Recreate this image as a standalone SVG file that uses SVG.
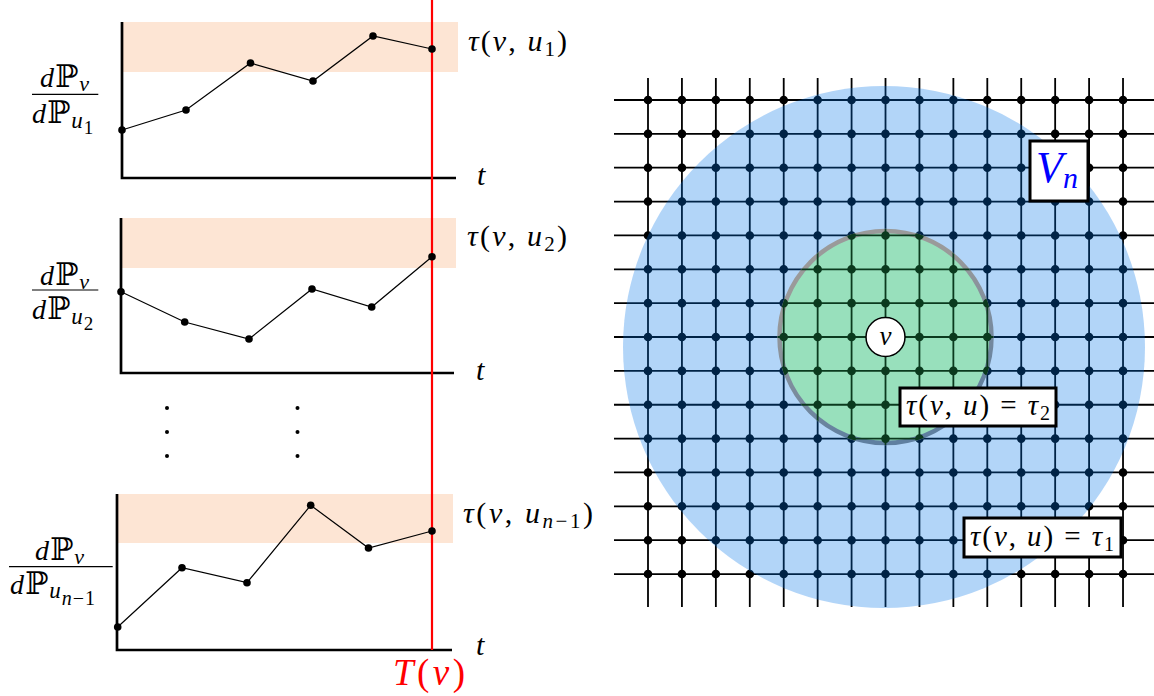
<svg xmlns="http://www.w3.org/2000/svg" xmlns:xlink="http://www.w3.org/1999/xlink" width="1154" height="696" viewBox="0 0 1154 696">
<style>
.ax{stroke:#000;stroke-width:2.7;fill:none}
.band{fill:#FDE5D4}
.curve{fill:none;stroke:#000;stroke-width:1.2}
.pt{fill:#000}
.m{font-family:"Liberation Serif",serif;fill:#000}
.i{font-style:italic}
.bb{font-family:"DejaVu Serif",serif;font-style:normal;font-size:31px}
.box{fill:#fff;stroke:#000;stroke-width:3}
.bar{stroke:#000;stroke-width:1.2}
.gl{fill:none;stroke-width:1.8}
.gd{fill:none;stroke-width:8.6;stroke-linecap:round;stroke-dasharray:0 33.93}
</style>
<defs>
<g id="gridG">
<path class="gl" d="M614,100H1157M614,133.86H1157M614,167.72H1157M614,201.58H1157M614,235.44H1157M614,269.3H1157M614,303.16H1157M614,337.02H1157M614,370.88H1157M614,404.74H1157M614,438.6H1157M614,472.46H1157M614,506.32H1157M614,540.18H1157M614,574.04H1157M648,78V607M681.93,78V607M715.86,78V607M749.79,78V607M783.72,78V607M817.65,78V607M851.58,78V607M885.51,78V607M919.44,78V607M953.37,78V607M987.3,78V607M1021.23,78V607M1055.16,78V607M1089.09,78V607M1123.02,78V607"/>
<path class="gd" d="M648,100H1123.5"/>
<path class="gd" d="M648,133.86H1123.5"/>
<path class="gd" d="M648,167.72H1123.5"/>
<path class="gd" d="M648,201.58H1123.5"/>
<path class="gd" d="M648,235.44H1123.5"/>
<path class="gd" d="M648,269.3H1123.5"/>
<path class="gd" d="M648,303.16H1123.5"/>
<path class="gd" d="M648,337.02H1123.5"/>
<path class="gd" d="M648,370.88H1123.5"/>
<path class="gd" d="M648,404.74H1123.5"/>
<path class="gd" d="M648,438.6H1123.5"/>
<path class="gd" d="M648,472.46H1123.5"/>
<path class="gd" d="M648,506.32H1123.5"/>
<path class="gd" d="M648,540.18H1123.5"/>
<path class="gd" d="M648,574.04H1123.5"/>
</g>
<clipPath id="gc"><circle cx="885.5" cy="337" r="108"/></clipPath>
<linearGradient id="ring" x1="0" y1="0" x2="0.35" y2="1">
<stop offset="0.35" stop-color="#9a9a9a"/>
<stop offset="1" stop-color="#5f7fa0"/>
</linearGradient>
</defs>

<!-- left: plots -->
<g id="plot1">
<rect class="band" x="122" y="22" width="336" height="50"/>
<path class="ax" d="M122,22V178H456"/>
</g>
<g id="plot2">
<rect class="band" x="121" y="218" width="335" height="50"/>
<path class="ax" d="M121,218V373H454"/>
</g>
<g id="plot3">
<rect class="band" x="117" y="494" width="336" height="49"/>
<path class="ax" d="M117,494V650H452"/>
</g>

<g id="threshold">
<line x1="432" y1="0" x2="432" y2="650" stroke="#FF0000" stroke-width="2.2"/>
<text class="m" x="393" y="685" font-size="37" style="fill:#FF0000" textLength="72"><tspan class="i">T</tspan>(<tspan class="i">v</tspan>)</text>
</g>

<g id="curve1">
<polyline class="curve" points="122,130 186,110 250.5,63 313,81 373,36 432,49"/>
<g class="pt"><circle cx="122" cy="130" r="3.8"/><circle cx="186" cy="110" r="3.8"/><circle cx="250.5" cy="63" r="3.8"/><circle cx="313" cy="81" r="3.8"/><circle cx="373" cy="36" r="3.8"/><circle cx="432" cy="49" r="3.8"/></g>
</g>
<g id="curve2">
<polyline class="curve" points="121,291.7 184.7,322 249,339 312,289 371.7,307 432,256.7"/>
<g class="pt"><circle cx="121" cy="291.7" r="3.8"/><circle cx="184.7" cy="322" r="3.8"/><circle cx="249" cy="339" r="3.8"/><circle cx="312" cy="289" r="3.8"/><circle cx="371.7" cy="307" r="3.8"/><circle cx="432" cy="256.7" r="3.8"/></g>
</g>
<g id="curve3">
<polyline class="curve" points="117.7,627 182,567.7 247,582.7 310.7,505.3 368.5,548 432,531"/>
<g class="pt"><circle cx="117.7" cy="627" r="3.8"/><circle cx="182" cy="567.7" r="3.8"/><circle cx="247" cy="582.7" r="3.8"/><circle cx="310.7" cy="505.3" r="3.8"/><circle cx="368.5" cy="548" r="3.8"/><circle cx="432" cy="531" r="3.8"/></g>
</g>

<g id="vdots" class="pt">
<circle cx="167" cy="408" r="2"/><circle cx="167" cy="432" r="2"/><circle cx="167" cy="456" r="2"/>
<circle cx="297.5" cy="408" r="2"/><circle cx="297.5" cy="432" r="2"/><circle cx="297.5" cy="456" r="2"/>
</g>

<g id="labels1">
<text class="m" x="40" y="87" font-size="28"><tspan class="i">d</tspan><tspan class="bb" dx="1">ℙ</tspan><tspan class="i" font-size="22" dx="1" dy="4">v</tspan></text>
<line class="bar" x1="32" y1="94.3" x2="98.3" y2="94.3"/>
<text class="m" x="32" y="123" font-size="28"><tspan class="i">d</tspan><tspan class="bb" dx="1">ℙ</tspan><tspan class="i" font-size="23" dx="1" dy="5">u</tspan><tspan font-size="19" dx="1" dy="6">1</tspan></text>
<text class="m" x="468" y="51" font-size="30" textLength="99"><tspan class="i">τ</tspan>(<tspan class="i">v</tspan>, <tspan class="i">u</tspan><tspan font-size="21" dy="5">1</tspan><tspan dy="-5">)</tspan></text>
<text class="m i" x="477" y="185" font-size="30">t</text>
</g>
<g id="labels2">
<text class="m" x="40" y="285" font-size="28"><tspan class="i">d</tspan><tspan class="bb" dx="1">ℙ</tspan><tspan class="i" font-size="22" dx="1" dy="4">v</tspan></text>
<line class="bar" x1="32" y1="290" x2="98.3" y2="290"/>
<text class="m" x="32" y="318.5" font-size="28"><tspan class="i">d</tspan><tspan class="bb" dx="1">ℙ</tspan><tspan class="i" font-size="23" dx="1" dy="5">u</tspan><tspan font-size="19" dx="1" dy="6">2</tspan></text>
<text class="m" x="467" y="246" font-size="30" textLength="100"><tspan class="i">τ</tspan>(<tspan class="i">v</tspan>, <tspan class="i">u</tspan><tspan font-size="21" dy="5">2</tspan><tspan dy="-5">)</tspan></text>
<text class="m i" x="476" y="380" font-size="30">t</text>
</g>
<g id="labels3">
<text class="m" x="35" y="560" font-size="28"><tspan class="i">d</tspan><tspan class="bb" dx="1">ℙ</tspan><tspan class="i" font-size="22" dx="1" dy="4">v</tspan></text>
<line class="bar" x1="9" y1="566.7" x2="112.7" y2="566.7"/>
<text class="m" x="10" y="593.5" font-size="28"><tspan class="i">d</tspan><tspan class="bb" dx="1">ℙ</tspan><tspan class="i" font-size="23" dx="1" dy="4">u</tspan><tspan class="i" font-size="20" dx="1" dy="7">n</tspan><tspan font-size="20" dx="1">−</tspan><tspan font-size="20" dx="1">1</tspan></text>
<text class="m" x="463" y="523" font-size="30" textLength="130"><tspan class="i">τ</tspan>(<tspan class="i">v</tspan>, <tspan class="i">u</tspan><tspan class="i" font-size="21" dy="5">n</tspan><tspan font-size="21">−1</tspan><tspan dy="-5">)</tspan></text>
<text class="m i" x="476" y="655" font-size="30">t</text>
</g>

<!-- right: grid with regions -->
<g id="grid">
<use xlink:href="#gridG" href="#gridG" stroke="#000"/>
</g>
<g id="regionVn">
<circle cx="884" cy="347" r="261" fill="#0075E9" fill-opacity="0.3"/>
</g>
<g id="regionTau2">
<circle cx="885.5" cy="337" r="106" fill="#98E0BC" stroke="url(#ring)" stroke-width="4.5"/>
<use xlink:href="#gridG" href="#gridG" stroke="#0b3a1e" clip-path="url(#gc)"/>
</g>

<g id="node-v">
<circle cx="885.5" cy="337" r="19.5" fill="#fff" stroke="#000" stroke-width="1.5"/>
<text class="m i" x="885.5" y="345" font-size="27" text-anchor="middle">v</text>
</g>
<g id="label-tau2">
<rect class="box" x="900" y="388" width="156" height="38"/>
<text class="m" x="906" y="415" font-size="29" textLength="144"><tspan class="i">τ</tspan>(<tspan class="i">v</tspan>, <tspan class="i">u</tspan>) = <tspan class="i">τ</tspan><tspan font-size="20" dy="5">2</tspan></text>
</g>
<g id="label-tau1">
<rect class="box" x="964" y="518" width="157" height="39"/>
<text class="m" x="970" y="546" font-size="29" textLength="144"><tspan class="i">τ</tspan>(<tspan class="i">v</tspan>, <tspan class="i">u</tspan>) = <tspan class="i">τ</tspan><tspan font-size="20" dy="5">1</tspan></text>
</g>
<g id="label-Vn">
<rect class="box" x="1030" y="141" width="58" height="60"/>
<text class="m" x="1036" y="182" font-size="44" style="fill:#0000FF"><tspan class="i">V</tspan><tspan class="i" font-size="30" dy="6">n</tspan></text>
</g>
</svg>
